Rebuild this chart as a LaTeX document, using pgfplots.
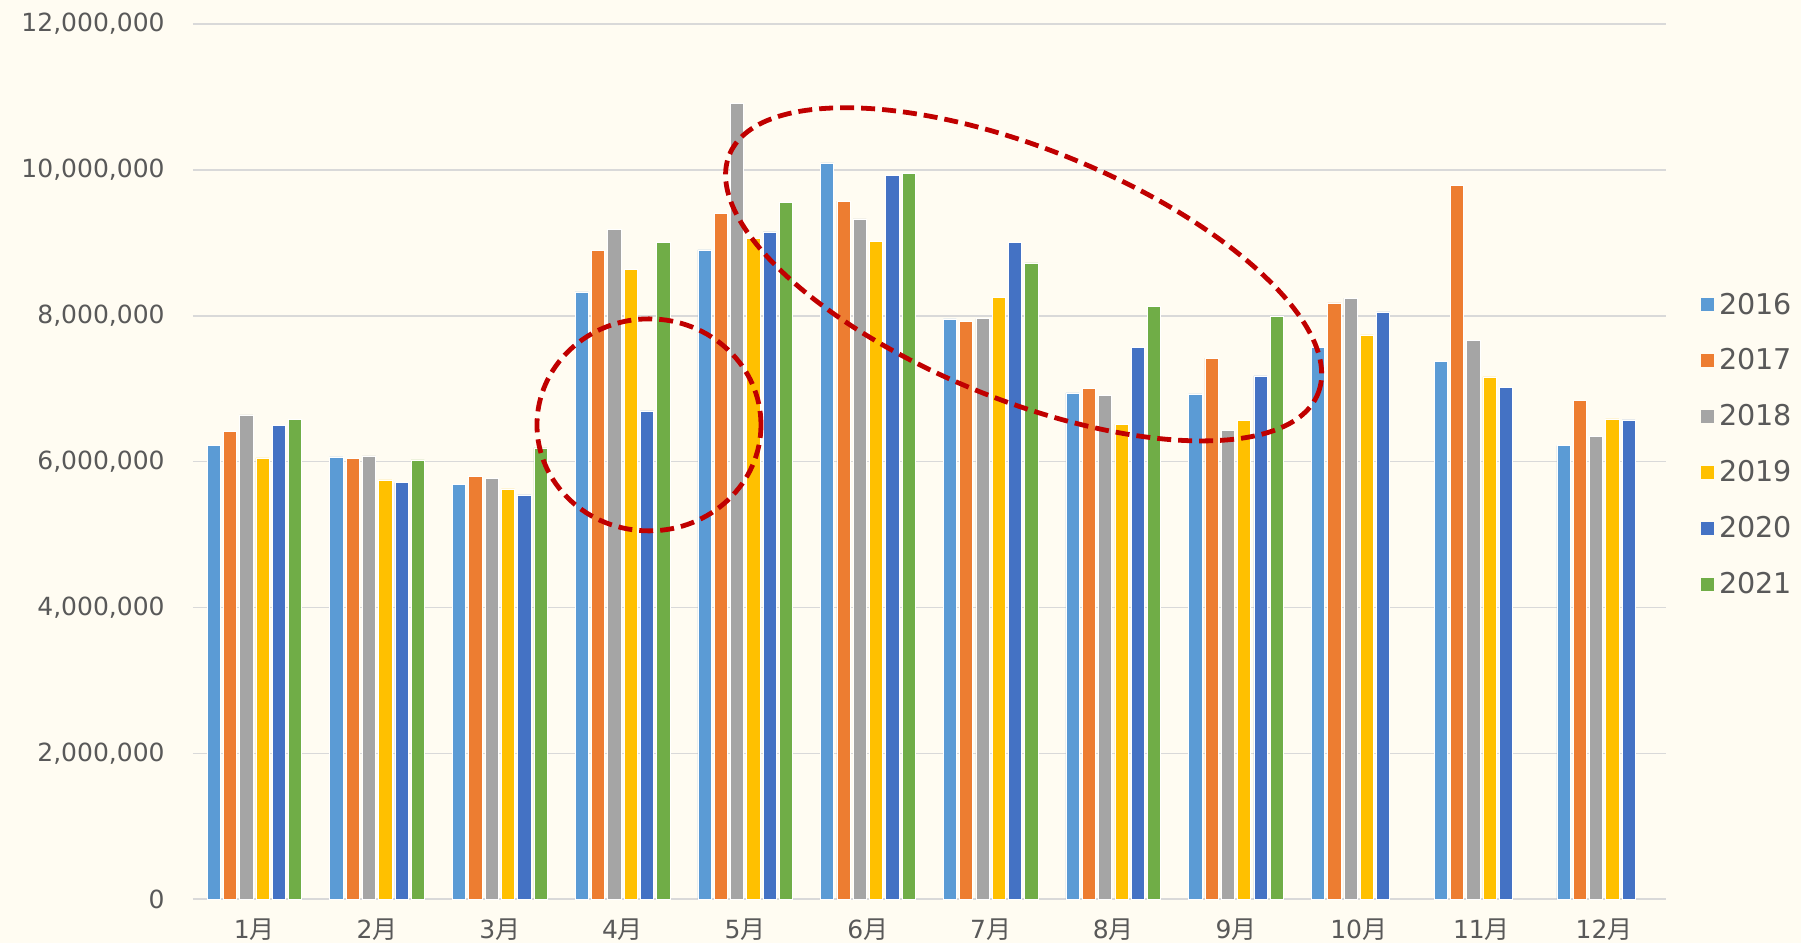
\documentclass[border=0pt]{standalone}
\usepackage{pgfplots}
\pgfplotsset{compat=1.18}
\usetikzlibrary{shapes.geometric}
\usepackage{fontspec}
\setmainfont{DejaVu Sans}
\newfontfamily\cjk{Noto Sans CJK JP}
\definecolor{bgc}{RGB}{255,252,242}
\definecolor{c16}{HTML}{5B9BD5}
\definecolor{c17}{HTML}{ED7D31}
\definecolor{c18}{HTML}{A5A5A5}
\definecolor{c19}{HTML}{FFC000}
\definecolor{c20}{HTML}{4472C4}
\definecolor{c21}{HTML}{70AD47}
\definecolor{gridc}{HTML}{D9D9D9}
\definecolor{txt}{HTML}{595959}
\definecolor{ann}{HTML}{C00000}
\pgfplotsset{
  sqlegend/.style={legend image code/.code={\fill[##1,draw=none] (0pt,-3.25pt) rectangle (6.5pt,3.25pt); \path[draw=none,fill=none] (0pt,0pt) -- (9.15pt,0pt);}},
  barst/.style={fill=#1, draw=white, line width=0.3pt, sqlegend},
}
\begin{document}
\begin{tikzpicture}
\path[use as bounding box, fill=bgc] (0pt,0pt) rectangle (900.5pt,471.5pt);
\begin{axis}[
  at={(96.5pt,21.85pt)}, anchor=south west,
  scale only axis, width=736.25pt, height=437.65pt,
  xmin=-0.5, xmax=11.5, ymin=0, ymax=12000000,
  ybar=1.55pt, bar width=6.6pt,
  xtick={0,...,11},
  xticklabels={1{\cjk 月},2{\cjk 月},3{\cjk 月},4{\cjk 月},5{\cjk 月},6{\cjk 月},7{\cjk 月},8{\cjk 月},9{\cjk 月},10{\cjk 月},11{\cjk 月},12{\cjk 月}},
  ytick={0,2000000,4000000,6000000,8000000,10000000,12000000},
  scaled y ticks=false,
  yticklabel style={/pgf/number format/fixed, /pgf/number format/precision=0,
     /pgf/number format/1000 sep={,}, /pgf/number format/assume math mode=true,
     inner sep=0pt, xshift=-14pt},
  xticklabel style={anchor=base, inner sep=0pt, yshift=-15.2pt},
  tick label style={text=txt, font=\fontsize{12.5}{15}\selectfont},
  ymajorgrids, major grid style={draw=gridc, line width=0.8pt},
  axis line style={draw=none}, tick style={draw=none},
  legend style={at={(axis description cs:1.0241,0.5196)}, anchor=west,
     draw=none, fill=none, inner sep=0pt, outer sep=0pt,
     font=\fontsize{14.3}{17}\selectfont, text=txt, row sep=15.8pt,
     nodes={inner sep=0pt},
     /tikz/every odd column/.style={column sep=0pt}},
  legend cell align=left,
]
\addplot[barst=c16] coordinates {(0,6226000) (1,6066000) (2,5691000) (3,8328000) (4,8904000) (5,10097000) (6,7958000) (7,6943000) (8,6930000) (9,7570000) (10,7373000) (11,6220000)};
\addplot[barst=c17] coordinates {(0,6413000) (1,6048000) (2,5796000) (3,8891000) (4,9402000) (5,9572000) (6,7921000) (7,7002000) (8,7419000) (9,8177000) (10,9791000) (11,6838000)};
\addplot[barst=c18] coordinates {(0,6642000) (1,6079000) (2,5768000) (3,9183000) (4,10916000) (5,9329000) (6,7962000) (7,6906000) (8,6432000) (9,8242000) (10,7661000) (11,6344000)};
\addplot[barst=c19] coordinates {(0,6052000) (1,5750000) (2,5627000) (3,8640000) (4,9059000) (5,9014000) (6,8256000) (7,6514000) (8,6563000) (9,7739000) (10,7163000) (11,6587000)};
\addplot[barst=c20] coordinates {(0,6495000) (1,5713000) (2,5544000) (3,6696000) (4,9151000) (5,9919000) (6,9010000) (7,7570000) (8,7176000) (9,8054000) (10,7016000) (11,6573000)};
\addplot[barst=c21] coordinates {(0,6583000) (1,6024000) (2,6189000) (3,9010000) (4,9549000) (5,9956000) (6,8726000) (7,8123000) (8,7990000)};
\legend{2016,2017,2018,2019,2020,2021}
\node[draw=ann, ellipse, line width=2.4pt, dash pattern=on 7pt off 3.5pt, inner sep=0pt, outer sep=0pt,
  minimum width=112pt, minimum height=106pt] at (axis cs:3.216,6504000) {};
\node[draw=ann, ellipse, line width=2.4pt, dash pattern=on 7pt off 3.5pt, inner sep=0pt, outer sep=0pt,
  minimum width=317.6pt, minimum height=125.3pt, rotate=-22.1] at (axis cs:6.269,8568000) {};
\end{axis}
\end{tikzpicture}
\end{document}
